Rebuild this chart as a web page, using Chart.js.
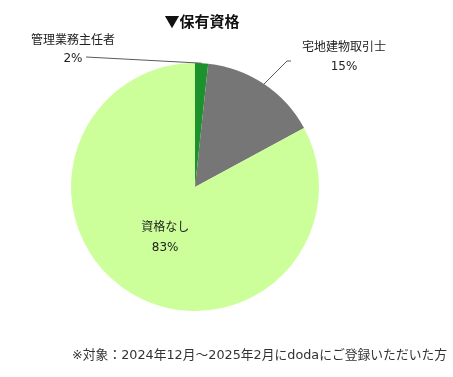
<!DOCTYPE html>
<html>
<head>
<meta charset="utf-8">
<script src="https://cdn.jsdelivr.net/npm/chart.js@4/dist/chart.umd.min.js"></script>
<style>
    body { margin: 0; background: #fff; }
    #wrap { width: 453px; height: 377px; }
</style>
</head>
<body>
<div id="wrap"><canvas id="c" width="453" height="377"></canvas></div>
<script>
// Data (slice order is clockwise from 12 o'clock)
const categories = ['管理業務主任者', '宅地建物取引士', '資格なし'];
const shares = [1.7, 15.4, 82.9];
const colors = ['#1b922b', '#767676', '#ccff99'];
const titleText = '▼保有資格';
const noteText = '※対象：2024年12月～2025年2月にdodaにご登録いただいた方';

// wide latin digits, CJK falls back to Noto
const FONT = '"DejaVu Sans", "Noto Sans CJK JP", sans-serif';
const FONT_JP = '"Noto Sans CJK JP", "Noto Sans", sans-serif';

/**
 * Draws title, footnote and slice labels (with leader lines for the
 * small slices that sit outside the pie)
 */
const pluginLabels = {
    id: 'pieLabels',
    afterDraw: function(chart, args, opts) {
        'use strict';
        const ctx = chart.ctx;
        const meta = chart.getDatasetMeta(0);
        const total = shares.reduce((a, b) => a + b, 0);
        ctx.save();

        // title
        ctx.fillStyle = '#111';
        ctx.font = 'bold 15px ' + FONT_JP;
        ctx.textAlign = 'center';
        ctx.textBaseline = 'middle';
        ctx.fillText(titleText, 202, 21);

        // footnote, fitted to the width it takes in the original
        ctx.fillStyle = '#333';
        let size = 12;
        ctx.font = size + 'px ' + FONT;
        size = size * 375 / ctx.measureText(noteText).width;
        ctx.font = size.toFixed(2) + 'px ' + FONT;
        ctx.textAlign = 'right';
        ctx.fillText(noteText, 447, 356);

        ctx.textAlign = 'center';
        meta.data.forEach((arc, i) => {
            const pct = Math.round(shares[i] / total * 100) + '%';
            const mid = (arc.startAngle + arc.endAngle) / 2;
            const place = opts.place[i];
            ctx.fillStyle = '#222';
            if (place.inside) {
                const r = arc.outerRadius * place.inside;
                const x = arc.x + Math.cos(mid) * r;
                const y = arc.y + Math.sin(mid) * r;
                ctx.font = '12px ' + FONT_JP;
                ctx.fillText(categories[i], x, y - 11);
                ctx.font = '12px ' + FONT;
                ctx.fillText(pct, x, y + 11);
                return;
            }
            // leader line from the outer edge of the slice
            const ex = arc.x + Math.cos(mid) * arc.outerRadius;
            const ey = arc.y + Math.sin(mid) * arc.outerRadius;
            ctx.strokeStyle = '#5a5a5a';
            ctx.lineWidth = 1;
            ctx.beginPath();
            ctx.moveTo(ex, ey);
            place.line.forEach((p) => ctx.lineTo(p[0], p[1]));
            ctx.stroke();
            ctx.font = '12px ' + FONT_JP;
            ctx.fillText(categories[i], place.x, place.y);
            ctx.font = '12px ' + FONT;
            ctx.fillText(pct, place.px, place.py);
        });
        ctx.restore();
    },
};

new Chart(document.getElementById('c'), {
    type: 'pie',
    data: {
        labels: categories,
        datasets: [{
            data: shares,
            backgroundColor: colors,
            borderWidth: 0,
        }],
    },
    options: {
        responsive: false,
        animation: false,
        layout: {
            padding: {left: 71, right: 134, top: 63, bottom: 66},
        },
        plugins: {
            legend: {display: false},
            tooltip: {enabled: false},
            pieLabels: {
                place: [
                    {x: 73, y: 39, px: 73, py: 59, line: [[86, 57]]},
                    {x: 344, y: 46, px: 344, py: 67,
                        line: [[287, 61], [291, 61]]},
                    {inside: 0.47},
                ],
            },
        },
    },
    plugins: [pluginLabels],
});
</script>
</body>
</html>
